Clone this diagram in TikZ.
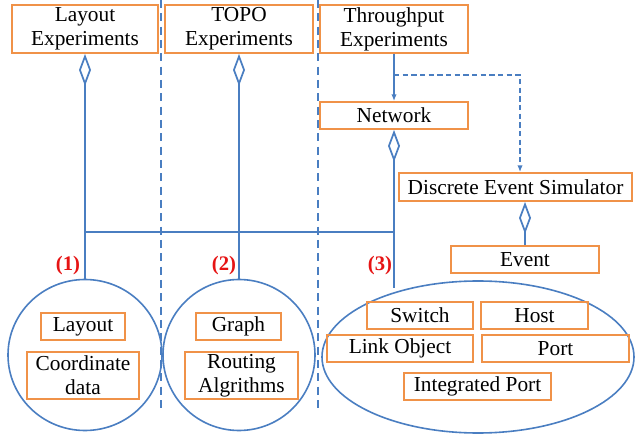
\documentclass[tikz,border=0pt]{standalone}
\usepackage{fontspec}
\setmainfont{Liberation Serif}
\usetikzlibrary{shapes.geometric,arrows.meta}
\definecolor{boxorange}{RGB}{240,146,72}
\definecolor{linkblue}{RGB}{74,126,193}
\definecolor{tagred}{RGB}{230,20,20}
\tikzset{
  obox/.style={draw=boxorange, line width=1.4pt, inner sep=0pt, align=center,
    font=\fontsize{16}{18}\selectfont},
  bx/.style 2 args={obox, minimum width=#1*0.75pt, minimum height=#2*0.75pt},
  group/.style={draw=linkblue, line width=1.2pt, ellipse, inner sep=0pt},
  link/.style={draw=linkblue, line width=1.3pt},
  agg/.style={link, {Diamond[open,length=24pt,width=9pt]}-},
  divider/.style={draw=linkblue, line width=1.5pt, dash pattern=on 6pt off 4pt},
  tag/.style={text=tagred, font=\fontsize{15.5}{17}\selectfont\bfseries}
}
\begin{document}
\begin{tikzpicture}[x=0.75pt, y=-0.75pt]
\useasboundingbox (0,0) rectangle (635,434);

% column dividers
\coordinate (d1t) at (161,0);
\coordinate (d1b) at (161,412);
\coordinate (d2t) at (318,0);
\coordinate (d2b) at (318,412);
\draw[divider] (d1t) -- (d1b);
\draw[divider] (d2t) -- (d2b);

% top-level experiments
\node[bx={146}{48}] (lexp) at (85,29) {Layout\\Experiments};
\node[bx={148}{48}] (texp) at (239,29) {TOPO\\Experiments};
\node[bx={148}{48}] (thexp) at (394,29) {Throughput\\Experiments};

% simulator side
\node[bx={148}{27}] (net) at (394,115.5) {Network};
\node[bx={233}{28}] (des) at (515.5,187) {Discrete Event Simulator};
\node[bx={148}{27}] (event) at (525,259.5) {Event};

% component groups
\node[group, minimum width=154*0.75pt, minimum height=151*0.75pt] (c1) at (85,355) {};
\node[group, minimum width=152*0.75pt, minimum height=151*0.75pt] (c2) at (239,355) {};
\node[group, minimum width=312*0.75pt, minimum height=152*0.75pt] (e3) at (478,357) {};

\node[bx={84}{27}] (layout) at (83,326.5) {Layout};
\node[bx={112}{47}] (coord) at (83,375.5) {Coordinate\\data};
\node[bx={85}{27}] (graph) at (238.5,326.5) {Graph};
\node[bx={113}{47}] (routing) at (241.5,375.5) {Routing\\Algrithms};
\node[bx={106}{27}] (switch) at (420,315.5) {Switch};
\node[bx={107}{27}] (host) at (534.5,315.5) {Host};
\node[bx={146}{27}] (linkobj) at (400,348.5) {Link Object};
\node[bx={147}{27}] (port) at (555.5,348.5) {Port};
\node[bx={147}{27}] (intport) at (477.5,386.5) {Integrated Port};

% group tags
\node[tag] (t1) at (68,266) {(1)};
\node[tag] (t2) at (224,266) {(2)};
\node[tag] (t3) at (380,266) {(3)};

% aggregation links
\coordinate (n3) at (394,288);
\draw[agg] (lexp.south) -- (lexp.south |- c1.north);
\draw[agg] (texp.south) -- (texp.south |- c2.north);
\draw[agg] (net.south) -- (n3);
\draw[agg] (des.south -| event.north) -- (event.north);

% shared bus between the groups
\coordinate (bus) at (0,232);
\draw[link] (lexp.south |- bus) -- (net.south |- bus);

% throughput experiments use the network and the simulator
\draw[link, -{Latex[length=5pt,width=4pt]}] (thexp.south) -- (net.north);
\coordinate (fork) at (394,75);
\coordinate (turn) at (520,75);
\draw[draw=linkblue, line width=1pt, dash pattern=on 4pt off 2.5pt, -{Latex[length=5pt,width=4pt]}]
  (fork) -- (turn) -- (turn |- des.north);
\end{tikzpicture}
\end{document}
